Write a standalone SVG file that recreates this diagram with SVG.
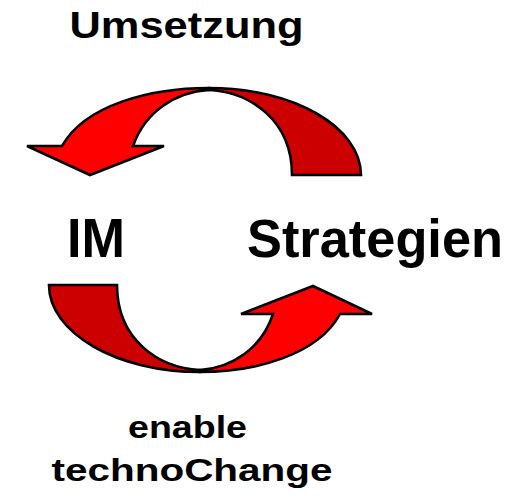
<svg xmlns="http://www.w3.org/2000/svg" width="516" height="497" viewBox="0 0 516 497">
<style>
.lbl{font-family:"Liberation Sans",Arial,sans-serif;font-weight:bold;fill:#000}
.red{fill:#FF0000;stroke:#000;stroke-width:2.6;stroke-linejoin:miter}
.dark{fill:#CC0000;stroke:#000;stroke-width:2.6;stroke-linejoin:miter}
</style>
<rect width="516" height="497" fill="#fff"/>
<g id="connectors">
<g id="arrow-top">
<path class="dark" d="M209,88 C293,88 361,127 361,175 L292,175 C292,120 250,92 209,90 Z"/>
<path class="red" d="M209,88 C150,88 85,105 62,146 L27,146 L90,175 L164,146 L133,146 C145,112 175,92 209,90 Z"/>
</g>
<g id="arrow-bottom">
<path class="dark" d="M49,285 L117,285 C117,340 159,368 200,370 L200,372 C117,372 49,333 49,285 Z"/>
<path class="red" d="M200,372 C255,372 318,355 340,314 L372,314 L313,286 L241,314 L273,314 C262,348 232,368 200,370 Z"/>
</g>
</g>
<g id="node-umsetzung"><text class="lbl" x="69.5" y="38" font-size="36" textLength="234" lengthAdjust="spacingAndGlyphs">Umsetzung</text></g>
<g id="node-im"><text class="lbl" x="67" y="257" font-size="55" textLength="58" lengthAdjust="spacingAndGlyphs">IM</text></g>
<g id="node-strategien"><text class="lbl" x="247" y="257" font-size="54" textLength="256" lengthAdjust="spacingAndGlyphs">Strategien</text></g>
<g id="node-enable">
<text class="lbl" x="128" y="438" font-size="32" textLength="119" lengthAdjust="spacingAndGlyphs">enable</text>
<text class="lbl" x="51.5" y="481" font-size="32" textLength="281" lengthAdjust="spacingAndGlyphs">technoChange</text>
</g>
</svg>
